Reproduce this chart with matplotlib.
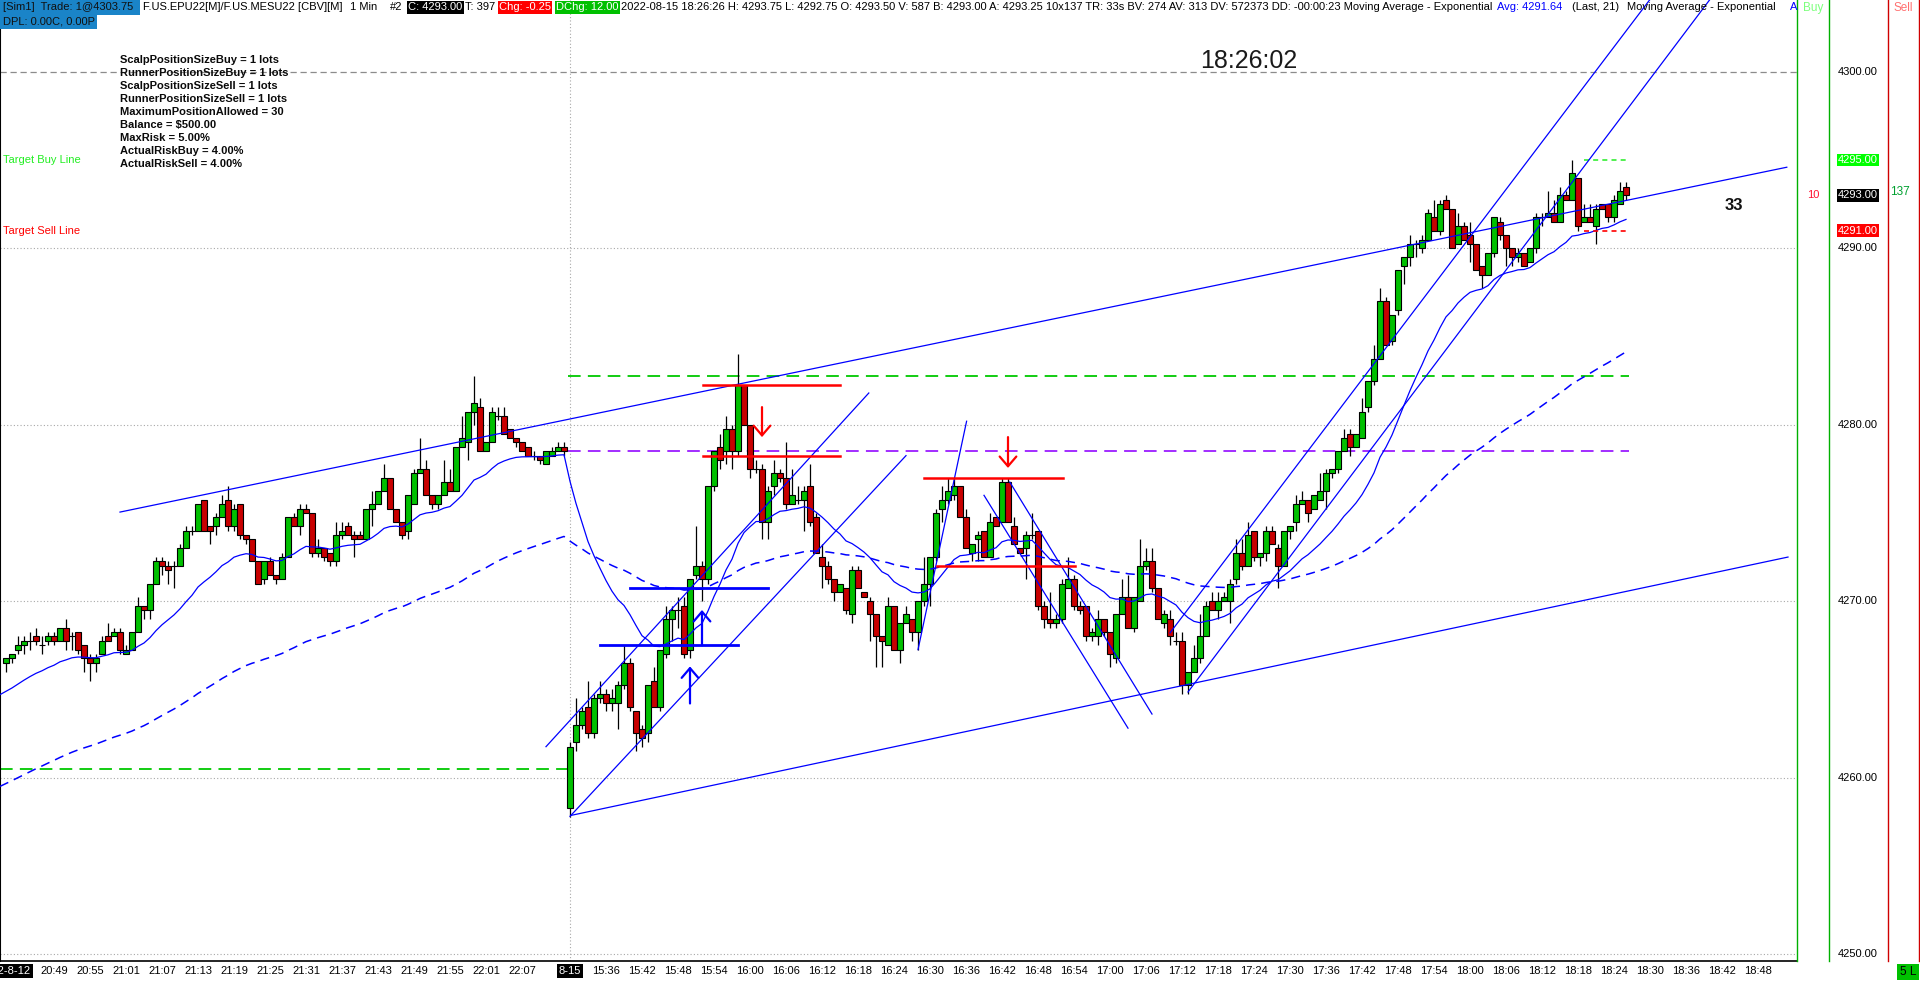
import numpy as np
import matplotlib.pyplot as plt
from matplotlib.patches import Rectangle, FancyArrowPatch
from matplotlib.lines import Line2D
from matplotlib.transforms import blended_transform_factory

plt.rcParams['font.family'] = ['Liberation Sans', 'DejaVu Sans']

# ---------------- data (1 min bars, 8-12 session then 8-15 session) ----------------
sessions = [("2022-8-12", 20 * 60 + 41, 94), ("8-15", 15 * 60 + 30, 205)]

opens = [
    4266.5, 4266.75, 4267.25, 4267.5, 4267.75, 4268.0, 4267.5, 4267.75, 4268.0, 4267.75,
    4268.5, 4268.0, 4268.25, 4267.5, 4266.75, 4266.5, 4267.0, 4268.0, 4268.0, 4268.25,
    4267.0, 4267.25, 4268.25, 4269.75, 4269.5, 4271.0, 4272.25, 4272.0, 4272.0, 4272.0,
    4273.0, 4274.0, 4274.0, 4275.75, 4274.25, 4274.25, 4274.75, 4275.75, 4274.25, 4275.5,
    4273.75, 4273.5, 4272.25, 4271.25, 4272.25, 4271.5, 4271.25, 4272.5, 4274.75, 4274.25,
    4275.25, 4275.0, 4272.75, 4273.0, 4272.75, 4272.25, 4273.75, 4274.25, 4273.75, 4273.75,
    4273.5, 4275.25, 4275.5, 4276.25, 4277.0, 4275.25, 4274.5, 4274.0, 4275.5, 4277.25,
    4277.5, 4276.0, 4275.5, 4276.0, 4276.75, 4276.25, 4278.75, 4279.0, 4280.75, 4281.0,
    4278.5, 4279.0, 4280.5, 4280.5, 4279.75, 4279.25, 4279.0, 4278.75, 4278.25, 4278.25,
    4277.75, 4278.25, 4278.5, 4278.75,
    4258.25, 4262.0, 4263.0, 4264.0, 4262.5, 4264.5, 4264.75, 4264.25, 4264.25, 4265.25,
    4266.5, 4263.75, 4262.75, 4262.5, 4265.5, 4264.0, 4267.0, 4269.0, 4269.5, 4269.75,
    4267.25, 4271.5, 4272.0, 4271.25, 4276.5, 4278.75, 4278.5, 4279.75, 4278.5, 4282.25,
    4280.0, 4277.5, 4277.5, 4274.5, 4276.5, 4277.25, 4277.0, 4275.5, 4275.75, 4275.75,
    4276.5, 4274.75, 4272.5, 4272.0, 4271.25, 4270.5, 4270.75, 4269.25, 4271.75, 4270.5,
    4270.0, 4269.25, 4268.0, 4267.5, 4269.75, 4267.25, 4268.75, 4269.0, 4268.25, 4270.0,
    4271.0, 4272.5, 4275.25, 4275.75, 4276.0, 4276.5, 4274.75, 4272.75, 4273.5, 4274.0,
    4272.5, 4274.75, 4274.5, 4276.75, 4274.25, 4273.0, 4273.0, 4273.75, 4274.0, 4269.75,
    4269.0, 4268.75, 4269.0, 4270.75, 4271.25, 4269.75, 4269.75, 4268.0, 4268.0, 4269.0,
    4268.25, 4266.75, 4269.25, 4270.25, 4268.5, 4270.0, 4272.0, 4272.25, 4270.75, 4268.75,
    4269.0, 4267.75, 4267.75, 4265.25, 4266.0, 4266.75, 4268.0, 4270.0, 4269.5, 4270.0,
    4270.0, 4271.25, 4272.75, 4272.0, 4274.0, 4272.5, 4272.75, 4274.0, 4273.0, 4272.0,
    4274.0, 4274.5, 4275.5, 4275.75, 4275.25, 4275.75, 4276.25, 4277.25, 4277.5, 4278.5,
    4279.5, 4278.75, 4279.25, 4281.0, 4282.5, 4283.75, 4287.0, 4284.75, 4286.5, 4289.0,
    4289.5, 4290.25, 4290.0, 4290.5, 4291.75, 4291.0, 4292.75, 4292.25, 4290.25, 4291.25,
    4290.75, 4290.25, 4289.0, 4288.5, 4289.75, 4291.5, 4290.75, 4290.0, 4289.5, 4289.75,
    4289.25, 4290.0, 4291.75, 4291.75, 4292.0, 4291.5, 4293.0, 4292.75, 4294.0, 4291.5,
    4291.75, 4291.25, 4292.5, 4292.5, 4291.75, 4292.5, 4293.5,
]
highs = [
    4266.75, 4267.0, 4268.0, 4268.0, 4268.25, 4268.5, 4268.0, 4268.25, 4268.25, 4268.5,
    4269.0, 4268.25, 4268.25, 4267.5, 4267.0, 4267.0, 4268.0, 4268.75, 4268.5, 4268.5,
    4267.5, 4268.25, 4270.25, 4269.75, 4271.0, 4272.5, 4272.5, 4272.25, 4272.25, 4273.25,
    4274.25, 4274.25, 4275.5, 4275.75, 4274.25, 4275.0, 4276.0, 4276.5, 4275.5, 4275.5,
    4273.75, 4273.5, 4272.25, 4272.25, 4272.5, 4271.5, 4272.75, 4274.75, 4275.0, 4275.5,
    4275.5, 4275.0, 4273.5, 4273.0, 4272.75, 4274.5, 4274.5, 4274.5, 4274.0, 4274.0,
    4275.25, 4276.25, 4276.25, 4277.75, 4277.0, 4275.25, 4274.5, 4276.0, 4277.5, 4279.25,
    4278.0, 4276.0, 4276.0, 4278.0, 4277.5, 4278.75, 4280.5, 4280.75, 4282.75, 4281.5,
    4279.0, 4281.0, 4281.0, 4281.0, 4279.75, 4279.25, 4279.0, 4278.75, 4278.5, 4278.25,
    4278.5, 4278.75, 4279.0, 4279.0,
    4262.0, 4264.5, 4264.0, 4265.5, 4264.75, 4265.5, 4265.0, 4265.0, 4265.5, 4267.5,
    4266.75, 4263.75, 4263.0, 4265.25, 4266.25, 4267.25, 4269.75, 4269.75, 4270.25, 4270.25,
    4271.25, 4274.25, 4272.25, 4276.5, 4278.5, 4279.5, 4280.5, 4280.0, 4284.0, 4282.25,
    4280.0, 4278.0, 4277.75, 4276.5, 4278.0, 4277.5, 4279.0, 4277.5, 4276.5, 4276.5,
    4277.75, 4275.0, 4273.25, 4272.25, 4271.25, 4271.0, 4270.75, 4272.0, 4272.0, 4270.5,
    4270.25, 4269.25, 4268.0, 4270.25, 4269.75, 4268.75, 4269.75, 4269.0, 4270.0, 4272.5,
    4272.5, 4275.25, 4276.5, 4277.0, 4277.0, 4276.5, 4275.25, 4273.25, 4274.0, 4274.0,
    4275.0, 4274.75, 4277.0, 4277.0, 4274.75, 4273.0, 4274.0, 4275.0, 4274.0, 4270.0,
    4270.5, 4269.25, 4271.25, 4272.5, 4271.5, 4270.0, 4269.75, 4268.5, 4269.5, 4269.0,
    4268.25, 4269.25, 4271.25, 4271.5, 4270.25, 4273.5, 4273.0, 4273.0, 4270.75, 4269.5,
    4269.5, 4268.25, 4268.25, 4266.0, 4267.5, 4269.25, 4270.0, 4270.5, 4270.5, 4270.5,
    4271.25, 4273.5, 4273.5, 4274.5, 4274.0, 4272.75, 4274.25, 4274.25, 4273.25, 4274.0,
    4274.25, 4276.0, 4276.25, 4275.75, 4276.0, 4277.25, 4277.5, 4277.5, 4278.5, 4279.75,
    4279.75, 4279.5, 4281.5, 4282.5, 4284.5, 4287.75, 4287.25, 4286.25, 4288.75, 4289.5,
    4290.75, 4290.5, 4290.75, 4292.25, 4292.75, 4292.75, 4293.0, 4292.25, 4292.0, 4291.5,
    4291.5, 4290.25, 4289.0, 4289.75, 4291.75, 4291.75, 4290.75, 4290.0, 4290.0, 4289.75,
    4290.0, 4292.0, 4292.0, 4293.25, 4292.75, 4293.5, 4293.25, 4295.0, 4294.0, 4292.5,
    4292.5, 4292.5, 4292.5, 4292.5, 4293.0, 4293.75, 4293.75,
]
lows = [
    4266.0, 4266.5, 4267.0, 4267.0, 4267.25, 4267.5, 4267.0, 4267.5, 4267.5, 4267.75,
    4267.25, 4267.25, 4267.0, 4266.0, 4265.5, 4266.0, 4267.0, 4267.75, 4268.0, 4267.0,
    4267.0, 4267.25, 4268.25, 4269.0, 4269.0, 4271.0, 4271.5, 4271.0, 4270.75, 4272.0,
    4273.0, 4273.75, 4274.0, 4274.0, 4273.25, 4273.75, 4274.75, 4274.0, 4274.0, 4273.5,
    4273.25, 4272.25, 4271.0, 4271.0, 4271.5, 4271.0, 4271.25, 4272.5, 4274.25, 4273.75,
    4275.0, 4272.5, 4272.5, 4272.25, 4272.0, 4272.0, 4273.5, 4273.75, 4272.5, 4273.5,
    4273.5, 4274.25, 4275.5, 4276.25, 4275.25, 4274.5, 4273.5, 4273.5, 4275.5, 4277.25,
    4276.0, 4275.25, 4275.25, 4276.0, 4276.25, 4276.25, 4278.75, 4278.0, 4280.0, 4278.5,
    4278.5, 4279.0, 4280.25, 4279.5, 4279.25, 4278.75, 4278.5, 4278.25, 4278.0, 4277.75,
    4277.75, 4278.25, 4278.5, 4278.25,
    4257.75, 4261.5, 4262.75, 4262.25, 4262.25, 4264.25, 4263.75, 4263.75, 4262.75, 4265.0,
    4263.75, 4261.5, 4261.75, 4262.0, 4264.0, 4263.75, 4266.75, 4267.75, 4268.5, 4266.75,
    4266.75, 4271.25, 4270.0, 4271.0, 4276.25, 4277.5, 4277.75, 4277.5, 4278.25, 4280.0,
    4277.0, 4277.25, 4273.5, 4273.5, 4276.0, 4276.75, 4275.25, 4275.5, 4275.5, 4274.0,
    4274.25, 4272.75, 4270.75, 4271.0, 4270.0, 4270.5, 4269.25, 4268.75, 4270.75, 4270.25,
    4267.75, 4266.25, 4266.25, 4267.5, 4267.25, 4266.5, 4268.75, 4267.75, 4267.25, 4269.75,
    4269.75, 4272.25, 4274.5, 4275.5, 4275.75, 4274.75, 4273.0, 4272.25, 4272.25, 4272.5,
    4272.5, 4274.25, 4274.5, 4274.5, 4273.25, 4272.75, 4271.25, 4273.5, 4269.5, 4268.5,
    4268.5, 4268.5, 4268.75, 4270.75, 4269.5, 4269.25, 4267.75, 4267.75, 4267.5, 4268.0,
    4266.25, 4266.5, 4269.25, 4268.5, 4268.25, 4270.0, 4271.75, 4270.5, 4269.0, 4268.5,
    4267.5, 4267.5, 4264.75, 4264.75, 4266.0, 4266.5, 4268.0, 4269.5, 4269.0, 4270.0,
    4268.75, 4271.0, 4271.75, 4272.0, 4272.25, 4272.0, 4272.25, 4273.25, 4270.75, 4272.0,
    4273.5, 4274.0, 4275.5, 4274.5, 4275.25, 4275.75, 4275.25, 4277.0, 4277.25, 4278.5,
    4278.25, 4278.75, 4279.25, 4280.75, 4282.25, 4283.75, 4284.5, 4284.5, 4286.25, 4288.0,
    4289.0, 4289.5, 4289.75, 4290.5, 4291.0, 4290.75, 4292.25, 4290.0, 4290.25, 4290.5,
    4289.25, 4288.75, 4287.75, 4288.5, 4289.5, 4290.5, 4289.0, 4289.0, 4289.25, 4289.0,
    4289.25, 4289.75, 4291.25, 4291.75, 4291.5, 4291.5, 4292.75, 4292.75, 4291.0, 4291.5,
    4291.5, 4290.25, 4292.25, 4291.5, 4291.5, 4292.5, 4292.75,
]
closes = [
    4266.75, 4267.0, 4267.5, 4267.75, 4267.75, 4267.75, 4267.5, 4268.0, 4267.75, 4268.5,
    4267.75, 4268.0, 4267.25, 4266.75, 4266.5, 4266.75, 4267.75, 4267.75, 4268.25, 4267.25,
    4267.25, 4268.25, 4269.75, 4269.5, 4271.0, 4272.25, 4272.0, 4271.75, 4272.0, 4273.0,
    4274.0, 4274.0, 4275.5, 4274.0, 4274.0, 4274.75, 4275.5, 4274.25, 4275.25, 4273.75,
    4273.5, 4272.25, 4271.0, 4272.25, 4271.5, 4271.25, 4272.5, 4274.75, 4274.25, 4275.25,
    4275.0, 4272.75, 4273.0, 4272.5, 4272.25, 4273.75, 4274.0, 4273.75, 4273.5, 4273.5,
    4275.25, 4275.5, 4276.25, 4277.0, 4275.25, 4274.5, 4273.75, 4276.0, 4277.25, 4277.5,
    4276.0, 4275.5, 4276.0, 4276.75, 4276.25, 4278.75, 4279.25, 4280.75, 4281.25, 4278.5,
    4279.0, 4280.75, 4280.5, 4279.5, 4279.25, 4279.0, 4278.5, 4278.25, 4278.25, 4278.0,
    4278.5, 4278.5, 4278.75, 4278.5,
    4261.75, 4263.0, 4263.75, 4262.5, 4264.5, 4264.75, 4264.25, 4264.5, 4265.25, 4266.5,
    4264.0, 4262.5, 4262.25, 4265.25, 4264.0, 4267.25, 4269.0, 4269.5, 4269.5, 4267.0,
    4271.25, 4272.0, 4271.25, 4276.5, 4278.5, 4278.0, 4279.75, 4278.5, 4282.25, 4280.0,
    4277.5, 4277.5, 4274.5, 4276.25, 4277.25, 4277.0, 4275.5, 4276.0, 4275.75, 4276.25,
    4274.5, 4272.75, 4272.0, 4271.25, 4270.5, 4271.0, 4269.5, 4271.75, 4270.75, 4270.25,
    4269.25, 4268.0, 4267.75, 4269.75, 4267.25, 4268.75, 4269.25, 4268.25, 4270.0, 4271.0,
    4272.5, 4275.0, 4275.75, 4276.25, 4276.5, 4274.75, 4273.0, 4273.25, 4273.75, 4272.5,
    4274.5, 4274.25, 4276.75, 4274.5, 4273.25, 4272.75, 4273.75, 4273.75, 4269.75, 4269.0,
    4268.75, 4269.0, 4271.0, 4271.25, 4269.75, 4269.5, 4268.0, 4268.25, 4269.0, 4268.25,
    4267.0, 4269.25, 4270.25, 4268.5, 4270.25, 4272.0, 4272.25, 4270.75, 4269.0, 4269.25,
    4268.0, 4267.75, 4265.25, 4266.0, 4266.75, 4268.0, 4269.75, 4269.5, 4270.0, 4270.25,
    4271.0, 4272.75, 4272.0, 4273.75, 4272.5, 4272.75, 4274.0, 4273.25, 4272.0, 4274.0,
    4274.25, 4275.5, 4275.75, 4275.0, 4276.0, 4276.25, 4277.25, 4277.5, 4278.5, 4279.25,
    4278.75, 4279.5, 4280.75, 4282.5, 4283.75, 4287.0, 4284.5, 4286.25, 4288.75, 4289.5,
    4290.25, 4290.25, 4290.5, 4292.0, 4291.0, 4292.5, 4292.25, 4290.0, 4291.25, 4290.5,
    4290.25, 4288.75, 4288.5, 4289.75, 4291.75, 4290.75, 4290.0, 4289.5, 4289.75, 4289.0,
    4290.0, 4291.75, 4291.75, 4292.0, 4291.5, 4293.0, 4292.75, 4294.25, 4291.25, 4291.75,
    4291.5, 4292.25, 4292.25, 4291.75, 4292.75, 4293.25, 4293.0,
]

# moving averages (period, value just before the first visible bar)
ema_fast = (21, 4264.7)
ema_slow = (89, 4259.5)

# chart drawings: (bar1, price1, bar2, price2)
trend_lines = [
    (20.0, 4275.05, 297.8, 4294.6),
    (95.1, 4257.85, 298.0, 4272.5),
    (91.0, 4261.75, 144.8, 4281.8),
    (95.0, 4257.8, 151.0, 4278.25),
    (153.0, 4267.25, 161.1, 4280.2),
    (164.0, 4276.0, 188.0, 4262.8),
    (168.3, 4276.75, 192.0, 4263.6),
]
rays = [(195.0, 4268.2, 254.7, 4295.0), (198.0, 4264.85, 261.7, 4293.6)]
red_levels = [(117.2, 140.0, 4282.25), (117.2, 140.0, 4278.25), (154.0, 177.2, 4277.0), (156.2, 179.2, 4272.0)]
blue_levels = [(105.0, 128.0, 4270.75), (100.0, 123.0, 4267.5)]
down_arrows = [(127.0, 4281.0, 4279.3), (168.0, 4279.3, 4277.55)]
up_arrows = [(117.0, 4267.5, 4269.5), (115.0, 4264.2, 4266.3)]
green_dash = [(0.0, 94.7, 4260.5), (94.7, 271.5, 4282.75)]
purple_dash = [(94.7, 271.5, 4278.5)]
target_buy, target_sell = 4295.0, 4291.0
target_span = (264.0, 271.3)

price_ticks = [4250, 4260, 4270, 4280, 4290, 4300]
last_price = 4293.0

settings_lines = [
    "ScalpPositionSizeBuy = 1 lots", "RunnerPositionSizeBuy = 1 lots",
    "ScalpPositionSizeSell = 1 lots", "RunnerPositionSizeSell = 1 lots",
    "MaximumPositionAllowed = 30", "Balance = $500.00", "MaxRisk = 5.00%",
    "ActualRiskBuy = 4.00%", "ActualRiskSell = 4.00%",
]

# ---------------- figure ----------------
W, H = 1920, 981
fig = plt.figure(figsize=(W / 100, H / 100), dpi=100)
fig.patch.set_facecolor('white')
ax = fig.add_axes([0, 20 / H, 1797 / W, 961 / H])
ax.set_xlim(0, 299.5)
ax.set_ylim(4249.6, 4304.08)
ax.set_xticks([])
ax.set_yticks([])
for s in ['top', 'right']:
    ax.spines[s].set_visible(False)
ax.spines['left'].set_linewidth(1.5)
ax.spines['bottom'].set_linewidth(1.2)


def fx(px):
    return px / W


def fy(py):
    return 1 - py / H


o = np.array(opens)
h = np.array(highs)
l = np.array(lows)
c = np.array(closes)
n = len(c)
k = np.arange(1, n + 1)

# grid
for p in price_ticks[:-1]:
    ax.axhline(p, color='#a8a8a8', lw=0.8, ls=(0, (1, 2)), zorder=1)
ax.axhline(4300, color='#8c8c8c', lw=0.9, ls=(0, (5, 3)), zorder=1)
ax.axvline(95, color='#a8a8a8', lw=0.8, ls=(0, (1, 2)), zorder=1)

# candles
ax.vlines(k, l, h, color='black', lw=0.9, zorder=3)
lo = np.minimum(o, c)
hi = np.maximum(o, c)
cols = np.where(c > o, '#00c000', np.where(c < o, '#c80000', 'black'))
ax.bar(k, hi - lo, bottom=lo, width=0.86, color=cols, edgecolor='black', linewidth=0.8, zorder=4)


def ema(values, period, seed):
    a = 2.0 / (period + 1)
    out = [seed]
    for v in values:
        out.append(out[-1] + a * (v - out[-1]))
    return np.array(out)


xe = np.arange(0, n + 1)
ax.plot(xe, ema(c, *ema_fast), color='#0000ff', lw=0.9, zorder=5)
ax.plot(xe, ema(c, *ema_slow), color='#0000ff', lw=1.1, ls=(0, (6, 4)), zorder=5)

# session lines
for x1, x2, p in green_dash:
    ax.plot([x1, x2], [p, p], color='#00c800', lw=1.3, ls=(0, (7, 4)), zorder=2)
for x1, x2, p in purple_dash:
    ax.plot([x1, x2], [p, p], color='#9b1cff', lw=1.3, ls=(0, (7, 4)), zorder=2)
ax.plot(target_span, [target_buy] * 2, color='#33ee33', lw=1.2, ls=(0, (3, 2.5)), zorder=5)
ax.plot(target_span, [target_sell] * 2, color='#ff0000', lw=1.2, ls=(0, (3, 2.5)), zorder=5)

# drawings
for x1, p1, x2, p2 in trend_lines:
    ax.plot([x1, x2], [p1, p2], color='#0000ff', lw=0.9, zorder=6)
for x1, p1, x2, p2 in rays:
    slope = (p2 - p1) / (x2 - x1)
    xt = x1 + (4306 - p1) / slope
    ax.plot([x1, xt], [p1, 4306], color='#0000ff', lw=0.9, zorder=6)
for x1, x2, p in red_levels:
    ax.plot([x1, x2], [p, p], color='#ff0000', lw=1.8, zorder=6)
for x1, x2, p in blue_levels:
    ax.plot([x1, x2], [p, p], color='#0000ff', lw=2.0, zorder=6)
for x, p1, p2 in down_arrows:
    ax.add_patch(FancyArrowPatch((x, p1), (x, p2), arrowstyle='->,head_length=0.35,head_width=0.3',
                                 mutation_scale=20, color='#ff0000', lw=1.6, zorder=7,
                                 shrinkA=0, shrinkB=0))
for x, p1, p2 in up_arrows:
    ax.add_patch(FancyArrowPatch((x, p1), (x, p2), arrowstyle='->,head_length=0.35,head_width=0.3',
                                 mutation_scale=20, color='#0000ff', lw=1.6, zorder=7,
                                 shrinkA=0, shrinkB=0))

# ---------------- right side columns ----------------
for xp, col in [(1797, '#00b000'), (1829, '#00b000'), (1888, '#d00000'), (1918.5, '#d00000')]:
    fig.add_artist(Line2D([fx(xp), fx(xp)], [fy(0), fy(961)], color=col, lw=1.0))
fig.text(fx(1813), fy(8), "Buy", color='#7dff7d', fontsize=8.5, ha='center', va='center')
fig.text(fx(1903), fy(8), "Sell", color='#ff7070', fontsize=8.5, ha='center', va='center')

ty = blended_transform_factory(fig.transFigure, ax.transData)
for p in price_ticks:
    fig.text(fx(1858), p, f"{p:.2f}", transform=ty, fontsize=8, ha='center', va='center', color='black')
for p, bg in [(target_buy, '#00ff00'), (last_price, 'black'), (target_sell, '#ff0000')]:
    fig.text(fx(1858), p, f"{p:.2f}", transform=ty, fontsize=8, ha='center', va='center', color='white',
             bbox=dict(boxstyle='square,pad=0.12', fc=bg, ec='none'))
fig.text(fx(1813), last_price, "10", transform=ty, fontsize=8, ha='center', va='center', color='#ff1030')
fig.text(fx(1900), last_price + 0.2, "137", transform=ty, fontsize=8.5, ha='center', va='center', color='#00a030')
fig.text(fx(1908), fy(972), "5 L", fontsize=8.5, ha='center', va='center', color='black',
         bbox=dict(boxstyle='square,pad=0.2', fc='#00c000', ec='none'))

# ---------------- time axis ----------------
tx = blended_transform_factory(ax.transData, fig.transFigure)
kk = 1
for si, (day, start, count) in enumerate(sessions):
    for j in range(count):
        kb = kk + j
        if kb > 296:
            break
        if si == 0:
            # labels every 6 bars, none too close to the next session's date box
            if kb >= 9 and (kb - 9) % 6 == 0 and j <= count - 6:
                m = start + j
                fig.text(kb, fy(971), f"{m // 60:02d}:{m % 60:02d}", transform=tx, fontsize=8,
                         ha='center', va='center')
        else:
            if j == 0:
                fig.text(kb, fy(971), day, transform=tx, fontsize=8, ha='center', va='center', color='white',
                         bbox=dict(boxstyle='square,pad=0.15', fc='black', ec='none'))
            elif j % 6 == 0:
                m = start + j
                fig.text(kb, fy(971), f"{m // 60:02d}:{m % 60:02d}", transform=tx, fontsize=8,
                         ha='center', va='center')
    kk += count
fig.text(fx(31), fy(971), sessions[0][0], fontsize=8, ha='right', va='center', color='white',
         bbox=dict(boxstyle='square,pad=0.15', fc='black', ec='none'))

# ---------------- header ----------------
fig.add_artist(Rectangle((0, fy(14.5)), fx(140), 14.5 / H, fc='#1a84c8', ec='none'))
fig.add_artist(Rectangle((0, fy(28.5)), fx(97), 14 / H, fc='#1a84c8', ec='none'))
fig.text(fx(3), fy(7.5), "[Sim1]  Trade: 1@4303.75", fontsize=8, va='center', color='#111111')
fig.text(fx(3), fy(21.5), "DPL: 0.00C, 0.00P", fontsize=8, va='center', color='#111111')
fig.text(fx(143), fy(7.5), "F.US.EPU22[M]/F.US.MESU22 [CBV][M]", fontsize=8, va='center')
fig.text(fx(350), fy(7.5), "1 Min", fontsize=8, va='center')
fig.text(fx(390), fy(7.5), "#2", fontsize=8, va='center')
fig.text(fx(408), fy(7.5), "C: 4293.00", fontsize=8, va='center', color='white',
         bbox=dict(boxstyle='square,pad=0.12', fc='black', ec='none'))
fig.text(fx(465), fy(7.5), "T: 397", fontsize=8, va='center')
fig.text(fx(499), fy(7.5), "Chg: -0.25", fontsize=8, va='center', color='white',
         bbox=dict(boxstyle='square,pad=0.12', fc='#ff0000', ec='none'))
fig.text(fx(556), fy(7.5), "DChg: 12.00", fontsize=8, va='center', color='white',
         bbox=dict(boxstyle='square,pad=0.12', fc='#00c000', ec='none'))
fig.text(fx(621), fy(7.5), "2022-08-15 18:26:26 H: 4293.75 L: 4292.75 O: 4293.50 V: 587 B: 4293.00 "
         "A: 4293.25 10x137 TR: 33s BV: 274 AV: 313 DV: 572373 DD: -00:00:23 Moving Average - Exponential",
         fontsize=8, va='center')
fig.text(fx(1497), fy(7.5), "Avg: 4291.64", fontsize=8, va='center', color='#0000ff')
fig.text(fx(1572), fy(7.5), "(Last, 21)", fontsize=8, va='center')
fig.text(fx(1627), fy(7.5), "Moving Average - Exponential", fontsize=8, va='center')
fig.text(fx(1790), fy(7.5), "A", fontsize=8, va='center', color='#0000ff')

fig.text(fx(1249), fy(61), "18:26:02", fontsize=18, ha='center', va='center', color='#1a1a1a')
for i, s in enumerate(settings_lines):
    fig.text(fx(120), fy(60 + 13 * i), s, fontsize=8, fontweight='bold', va='center', color='#0a0a0a')
fig.text(fx(3), target_buy, "Target Buy Line", transform=ty, fontsize=8, va='center', color='#22ee22')
fig.text(fx(3), target_sell, "Target Sell Line", transform=ty, fontsize=8, va='center', color='#ff0000')
fig.text(fx(1734), fy(206), "33", fontsize=12, fontweight='bold', ha='center', va='center', color='#111111')

fig.savefig("out.png", dpi=100)
